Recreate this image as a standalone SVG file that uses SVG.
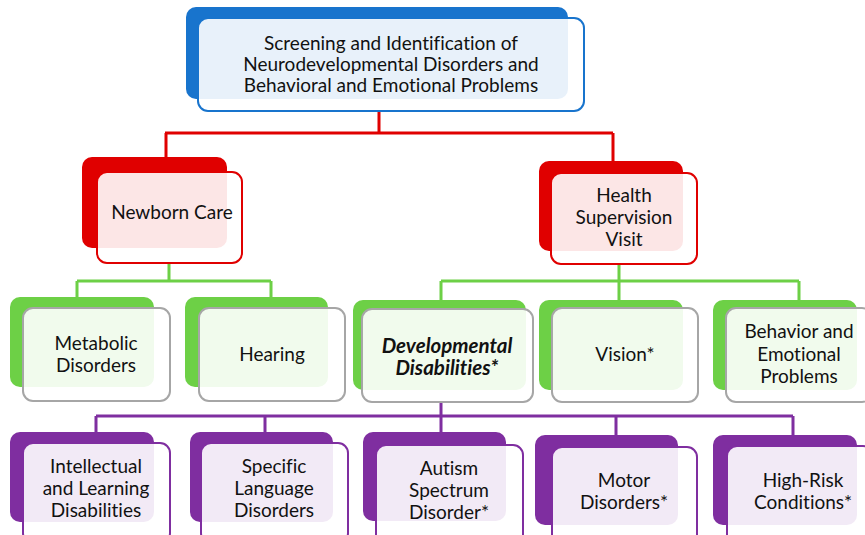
<svg xmlns="http://www.w3.org/2000/svg" width="865" height="535" viewBox="0 0 865 535">
<style>
text{font-family:Lato,"Open Sans","Liberation Sans",sans-serif;font-size:19px;fill:#111;text-anchor:middle;font-variant-ligatures:none}
.bi{font-weight:bold;font-style:italic;font-size:20.5px}
.front{fill:#fff;fill-opacity:0.9;stroke-width:2}
.blue .back{fill:#1874cd}.blue .front{stroke:#1874cd}
.red .back{fill:#e00000}.red .front{stroke:#e00000}
.green .back{fill:#6dd046}.green .front{stroke:#a6a6a6}
.purple .back{fill:#7f2ea0}.purple .front{stroke:#7f2ea0}
.c{fill:none;stroke-width:3}
</style>
<g id="connectors">
<path class="c" stroke="#e00000" d="M379 111V133M165 133H613M166 133V157M613 133V161"/>
<path class="c" stroke="#6dd046" stroke-width="2.5" d="M169 263V281M77 281H271M77 281V297M271 281V297"/>
<path class="c" stroke="#6dd046" stroke-width="2.5" d="M619 264V281M441 281H799M441 281V300M619 281V300M799 281V300"/>
<path class="c" stroke="#7f2ea0" stroke-width="2.5" d="M441 402V432M96 416H793M96 416V432M265 416V432M616 416V435M793 416V435"/>
</g>
<g id="n-root" class="blue">
<rect class="back" x="186" y="7" width="382" height="92" rx="10"/>
<rect class="front" x="198" y="18" width="386" height="93" rx="10"/>
<text x="391" y="49.5">Screening and Identification of</text>
<text x="391" y="70.7">Neurodevelopmental Disorders and</text>
<text x="391" y="91.7">Behavioral and Emotional Problems</text>
</g>
<g id="n-newborn" class="red">
<rect class="back" x="82" y="157" width="145" height="91" rx="10"/>
<rect class="front" x="97" y="172" width="145" height="91" rx="10"/>
<text x="172" y="219">Newborn Care</text>
</g>
<g id="n-health" class="red">
<rect class="back" x="539" y="161" width="144" height="90" rx="10"/>
<rect class="front" x="551" y="173" width="146" height="91" rx="10"/>
<text x="624" y="202">Health</text>
<text x="624" y="224">Supervision</text>
<text x="624" y="246">Visit</text>
</g>
<g id="n-metabolic" class="green">
<rect class="back" x="10" y="297" width="144" height="90" rx="10"/>
<rect class="front" x="23" y="308" width="147" height="93" rx="10"/>
<text x="96" y="350">Metabolic</text>
<text x="96" y="372">Disorders</text>
</g>
<g id="n-hearing" class="green">
<rect class="back" x="185" y="297" width="143" height="90" rx="10"/>
<rect class="front" x="199" y="308" width="146" height="93" rx="10"/>
<text x="272" y="361">Hearing</text>
</g>
<g id="n-dev" class="green">
<rect class="back" x="353" y="300" width="173" height="90" rx="10"/>
<rect class="front" x="362" y="309" width="171" height="93" rx="10"/>
<text class="bi" x="447" y="353">Developmental</text>
<text class="bi" x="447" y="375">Disabilities*</text>
</g>
<g id="n-vision" class="green">
<rect class="back" x="539" y="300" width="144" height="90" rx="10"/>
<rect class="front" x="552" y="308" width="146" height="94" rx="10"/>
<text x="625" y="361">Vision*</text>
</g>
<g id="n-behavior" class="green">
<rect class="back" x="713" y="300" width="144" height="90" rx="10"/>
<rect class="front" x="726" y="308" width="146" height="94" rx="10"/>
<text x="799" y="338">Behavior and</text>
<text x="799" y="361">Emotional</text>
<text x="799" y="383">Problems</text>
</g>
<g id="n-intellectual" class="purple">
<rect class="back" x="10" y="432" width="144" height="90" rx="10"/>
<rect class="front" x="23" y="443" width="147" height="100" rx="10"/>
<text x="96" y="473">Intellectual</text>
<text x="96" y="495">and Learning</text>
<text x="96" y="517">Disabilities</text>
</g>
<g id="n-language" class="purple">
<rect class="back" x="190" y="432" width="143" height="90" rx="10"/>
<rect class="front" x="201" y="443" width="147" height="100" rx="10"/>
<text x="274" y="473">Specific</text>
<text x="274" y="495">Language</text>
<text x="274" y="517">Disorders</text>
</g>
<g id="n-autism" class="purple">
<rect class="back" x="363" y="432" width="143" height="89" rx="10"/>
<rect class="front" x="376" y="445" width="147" height="100" rx="10"/>
<text x="449" y="475">Autism</text>
<text x="449" y="497">Spectrum</text>
<text x="449" y="519">Disorder*</text>
</g>
<g id="n-motor" class="purple">
<rect class="back" x="535" y="435" width="143" height="90" rx="10"/>
<rect class="front" x="552" y="447" width="145" height="100" rx="10"/>
<text x="624" y="487">Motor</text>
<text x="624" y="509">Disorders*</text>
</g>
<g id="n-highrisk" class="purple">
<rect class="back" x="713" y="435" width="144" height="90" rx="10"/>
<rect class="front" x="727" y="446" width="146" height="100" rx="10"/>
<text x="803" y="487">High-Risk</text>
<text x="803" y="509">Conditions*</text>
</g>
</svg>
